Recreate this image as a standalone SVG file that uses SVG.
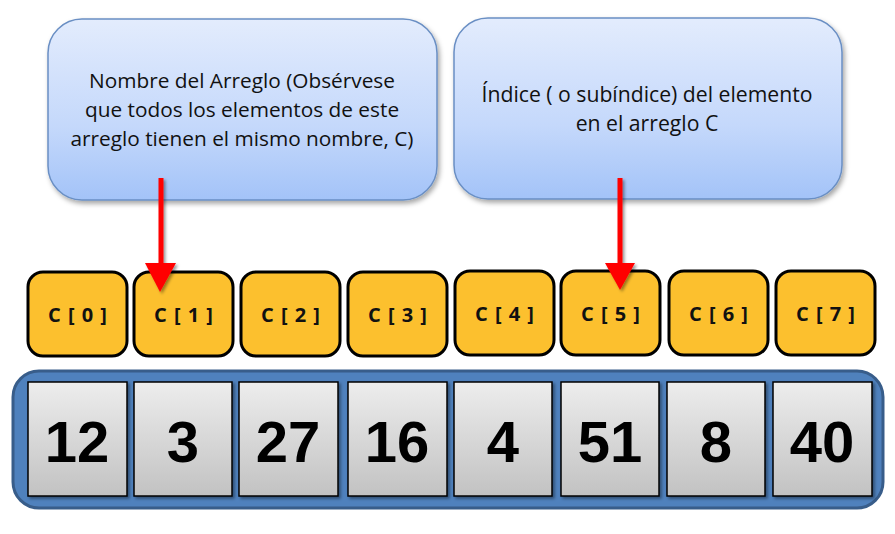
<svg xmlns="http://www.w3.org/2000/svg" width="895" height="534" viewBox="0 0 895 534">
<defs>
<linearGradient id="gBlue" x1="0" y1="0" x2="0" y2="1">
<stop offset="0" stop-color="#E3ECFD"/>
<stop offset="0.6" stop-color="#C4D8FB"/>
<stop offset="1" stop-color="#A3C3F8"/>
</linearGradient>
<linearGradient id="gGray" x1="0" y1="0" x2="0" y2="1">
<stop offset="0" stop-color="#EDEDED"/>
<stop offset="1" stop-color="#C2C2C2"/>
</linearGradient>
<filter id="sh" x="-10%" y="-10%" width="130%" height="130%">
<feDropShadow dx="2" dy="3" stdDeviation="2.5" flood-color="#000" flood-opacity="0.35"/>
</filter>
<filter id="shs" x="-20%" y="-20%" width="150%" height="150%">
<feDropShadow dx="2" dy="2" stdDeviation="1.5" flood-color="#000" flood-opacity="0.4"/>
</filter>
</defs>
<style>
.callout{fill:url(#gBlue);stroke:#6A8FC4;stroke-width:1.5;filter:url(#sh)}
.ctext{font-family:"Open Sans","Liberation Sans",sans-serif;font-size:20.8px;fill:#111;text-anchor:middle}
.idx{fill:#FCC02E;stroke:#000;stroke-width:3}
.itext{font-family:"Open Sans","Liberation Sans",sans-serif;font-size:20px;font-weight:bold;fill:#111;text-anchor:middle;letter-spacing:1px}
.cell{fill:url(#gGray);stroke:#000;stroke-width:1.5;filter:url(#shs)}
.num{font-family:"Liberation Sans",Arial,sans-serif;font-size:58px;font-weight:bold;fill:#000;text-anchor:middle}
.arr{stroke:#FF0000;stroke-width:5;fill:none}
.head{fill:#FF0000}
</style>
<rect x="0" y="0" width="895" height="534" fill="#FFFFFF"/>

<g id="callout-nombre">
<rect class="callout" x="48" y="19" width="389" height="181" rx="34" ry="34"/>
<text class="ctext" x="242" y="88">Nombre del Arreglo (Obsérvese</text>
<text class="ctext" x="242" y="117">que todos los elementos de este</text>
<text class="ctext" x="242" y="146">arreglo tienen el mismo nombre, C)</text>
</g>
<g id="callout-indice">
<rect class="callout" x="454" y="18" width="388" height="181" rx="34" ry="34"/>
<text class="ctext" x="647" y="102" style="font-size:21.2px">Índice ( o subíndice) del elemento</text>
<text class="ctext" x="647" y="131" style="font-size:21.2px">en el arreglo C</text>
</g>

<g id="indices">
<g id="idx0"><rect class="idx" x="28" y="272" width="99" height="84" rx="15"/><text class="itext" x="78" y="322">C [ 0 ]</text></g>
<g id="idx1"><rect class="idx" x="134" y="272" width="99" height="84" rx="15"/><text class="itext" x="184" y="322">C [ 1 ]</text></g>
<g id="idx2"><rect class="idx" x="241" y="272" width="99" height="84" rx="15"/><text class="itext" x="291" y="322">C [ 2 ]</text></g>
<g id="idx3"><rect class="idx" x="348" y="272" width="99" height="84" rx="15"/><text class="itext" x="398" y="322">C [ 3 ]</text></g>
<g id="idx4"><rect class="idx" x="455" y="271" width="99" height="84" rx="15"/><text class="itext" x="505" y="321">C [ 4 ]</text></g>
<g id="idx5"><rect class="idx" x="561" y="271" width="99" height="84" rx="15"/><text class="itext" x="611" y="321">C [ 5 ]</text></g>
<g id="idx6"><rect class="idx" x="669" y="271" width="99" height="84" rx="15"/><text class="itext" x="719" y="321">C [ 6 ]</text></g>
<g id="idx7"><rect class="idx" x="776" y="271" width="99" height="84" rx="15"/><text class="itext" x="826" y="321">C [ 7 ]</text></g>
</g>

<g id="array">
<rect x="13" y="371" width="870" height="137" rx="26" ry="26" fill="#4F81BD" stroke="#385D8A" stroke-width="3"/>
<g id="cell0"><rect class="cell" x="28" y="382" width="99" height="114"/><text class="num" x="77" y="462">12</text></g>
<g id="cell1"><rect class="cell" x="134" y="382" width="98" height="114"/><text class="num" x="183" y="462">3</text></g>
<g id="cell2"><rect class="cell" x="239" y="382" width="99" height="114"/><text class="num" x="288" y="462">27</text></g>
<g id="cell3"><rect class="cell" x="348" y="382" width="99" height="114"/><text class="num" x="397" y="462">16</text></g>
<g id="cell4"><rect class="cell" x="454" y="382" width="98" height="114"/><text class="num" x="503" y="462">4</text></g>
<g id="cell5"><rect class="cell" x="561" y="382" width="98" height="114"/><text class="num" x="610" y="462">51</text></g>
<g id="cell6"><rect class="cell" x="667" y="382" width="98" height="114"/><text class="num" x="716" y="462">8</text></g>
<g id="cell7"><rect class="cell" x="773" y="382" width="99" height="114"/><text class="num" x="822" y="462">40</text></g>
</g>

<g id="connectors" filter="url(#shs)">
<line class="arr" x1="161" y1="178" x2="161" y2="266"/>
<polygon class="head" points="145,263 176,263 160,292"/>
<line class="arr" x1="620" y1="178" x2="620" y2="266"/>
<polygon class="head" points="605,263 635,263 620,290"/>
</g>
</svg>
